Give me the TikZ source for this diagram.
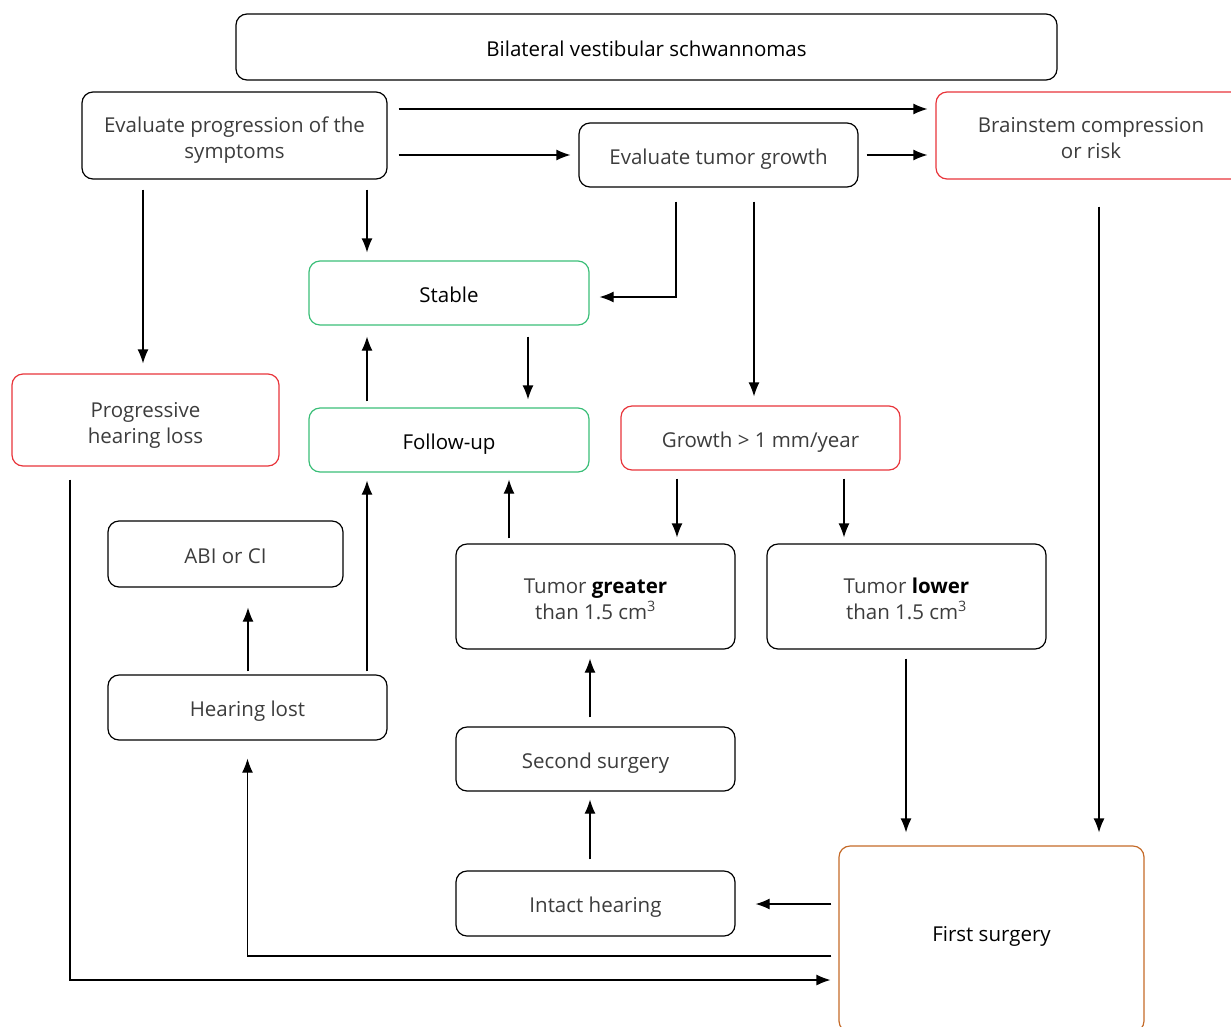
\documentclass[tikz,border=0pt]{standalone}
\usepackage{fontspec}
\setmainfont{Open Sans}
\usetikzlibrary{arrows.meta}

\definecolor{boxred}{RGB}{232,52,58}
\definecolor{boxgreen}{RGB}{58,190,120}
\definecolor{boxorange}{RGB}{196,106,40}
\definecolor{txtgray}{RGB}{60,60,60}

\tikzset{
  box/.style={draw, rounded corners=11pt, line width=1.2pt, align=center,
    text=txtgray, inner sep=0pt, text height=20pt, text depth=1.5pt,
    font=\fontsize{20.5}{26}\selectfont},
  redbox/.style={box, draw=boxred},
  greenbox/.style={box, draw=boxgreen},
  twoline/.style={text depth=0pt, text height=46pt},
  arr/.style={-{Latex[length=14pt,width=11pt]}, line width=1.2pt},
}

\begin{document}
\begin{tikzpicture}[x=1pt, y=-1pt]
\clip (0,0) rectangle (1231,1026);
\useasboundingbox (0,0) rectangle (1231,1026);

% boxes
\node (top)    at (646.5,47)  [box, minimum width=821pt, minimum height=66pt, text=black] {Bilateral vestibular schwannomas};
\node (progr)  at (234.5,135.5) [box, twoline, minimum width=305pt, minimum height=87pt] {Evaluate progression of the\\symptoms};
\node (evalg)  at (718.5,155) [box, minimum width=279pt, minimum height=64pt] {Evaluate tumor growth};
\node (brain)  at (1091,135.5) [redbox, twoline, minimum width=310pt, minimum height=87pt] {Brainstem compression\\or risk};
\node (stable) at (449,293)   [greenbox, minimum width=280pt, minimum height=64pt, text=black] {Stable};
\node (phl)    at (145.5,420) [redbox, twoline, minimum width=267pt, minimum height=92pt] {Progressive\\hearing loss};
\node (follow) at (449,440)   [greenbox, minimum width=280pt, minimum height=64pt, text=black] {Follow-up};
\node (gr1)    at (760.5,438) [redbox, minimum width=279pt, minimum height=64pt] {Growth > 1 mm/year};
\node (abi)    at (225.5,554) [box, minimum width=235pt, minimum height=66pt] {ABI or CI};
\node (tgreat) at (595.5,596.5) [box, twoline, minimum width=279pt, minimum height=105pt] {Tumor \textcolor{black}{\bfseries greater}\\than 1.5 cm\textsuperscript{3}};
\node (tlow)   at (906.5,596.5) [box, twoline, minimum width=279pt, minimum height=105pt] {Tumor \textcolor{black}{\bfseries lower}\\than 1.5 cm\textsuperscript{3}};
\node (hlost)  at (247.5,707.5) [box, minimum width=279pt, minimum height=65pt] {Hearing lost};
\node (second) at (595.5,759) [box, minimum width=279pt, minimum height=64pt] {Second surgery};
\node (intact) at (595.5,903.5) [box, minimum width=279pt, minimum height=65pt] {Intact hearing};
\node (first)  at (991.5,939) [box, draw=boxorange, minimum width=305pt, minimum height=186pt, text depth=16pt, text=black] {First surgery};

% arrows
\draw [arr, shorten <=11pt, shorten >=8pt] ([yshift=26.5pt]progr.east) -- ([yshift=26.5pt]brain.west);
\draw [arr, shorten <=11pt, shorten >=8pt] ([yshift=-19.5pt]progr.east) -- (evalg.west);
\draw [arr, shorten <=8pt, shorten >=8pt] (evalg.east) -- ([yshift=-19.5pt]brain.west);
\draw [arr, shorten <=10pt, shorten >=8pt] ([xshift=132.5pt]progr.south) -- ([xshift=-82pt]stable.north);
\draw [arr, shorten <=10pt, shorten >=10pt] ([xshift=-91.5pt]progr.south) -- ([xshift=-2.5pt]phl.north);
\draw [arr, shorten <=14pt, shorten >=10pt] ([xshift=-42.5pt]evalg.south) |- ([yshift=-4pt]stable.east);
\draw [arr, shorten <=14pt, shorten >=9pt] ([xshift=35.5pt]evalg.south) -- ([xshift=-6.5pt]gr1.north);
\draw [arr, shorten <=27pt, shorten >=13pt] ([xshift=8pt]brain.south) -- ([xshift=107.5pt]first.north);
\draw [arr, shorten <=6pt, shorten >=11pt] ([xshift=-82pt]follow.north) -- ([xshift=-82pt]stable.south);
\draw [arr, shorten <=11pt, shorten >=8pt] ([xshift=79pt]stable.south) -- ([xshift=79pt]follow.north);
\draw [arr, shorten <=8pt, shorten >=6pt] ([xshift=-83.5pt]gr1.south) -- ([xshift=81.5pt]tgreat.north);
\draw [arr, shorten <=8pt, shorten >=6pt] ([xshift=83.5pt]gr1.south) -- ([xshift=-62.5pt]tlow.north);
\draw [arr, shorten <=5pt, shorten >=7pt] ([xshift=-86.5pt]tgreat.north) -- ([xshift=60pt]follow.south);
\draw [arr, shorten <=3pt, shorten >=8pt] ([xshift=119.5pt]hlost.north) -- ([xshift=-82pt]follow.south);
\draw [arr, shorten <=3pt, shorten >=20pt] ([xshift=0.5pt]hlost.north) -- ([xshift=22.5pt]abi.south);
\draw [arr, shorten <=9pt, shorten >=9pt] ([xshift=-5.5pt]second.north) -- ([xshift=-5.5pt]tgreat.south);
\draw [arr, shorten <=11pt, shorten >=8pt] ([xshift=-5.5pt]intact.north) -- ([xshift=-5.5pt]second.south);
\draw [arr, shorten <=9pt, shorten >=13pt] ([xshift=-0.5pt]tlow.south) -- ([xshift=-85.5pt]first.north);
\draw [arr, shorten <=7pt, shorten >=20pt] ([yshift=35pt]first.west) -- ([yshift=35pt]first.west -| intact.east);
\draw [arr, shorten <=7pt, shorten >=18pt] ([yshift=-17pt]first.west) -| (hlost.south);
\draw [arr, shorten <=13pt, shorten >=8pt] ([xshift=-75.5pt]phl.south) |- ([yshift=-41pt]first.west);
\end{tikzpicture}
\end{document}
